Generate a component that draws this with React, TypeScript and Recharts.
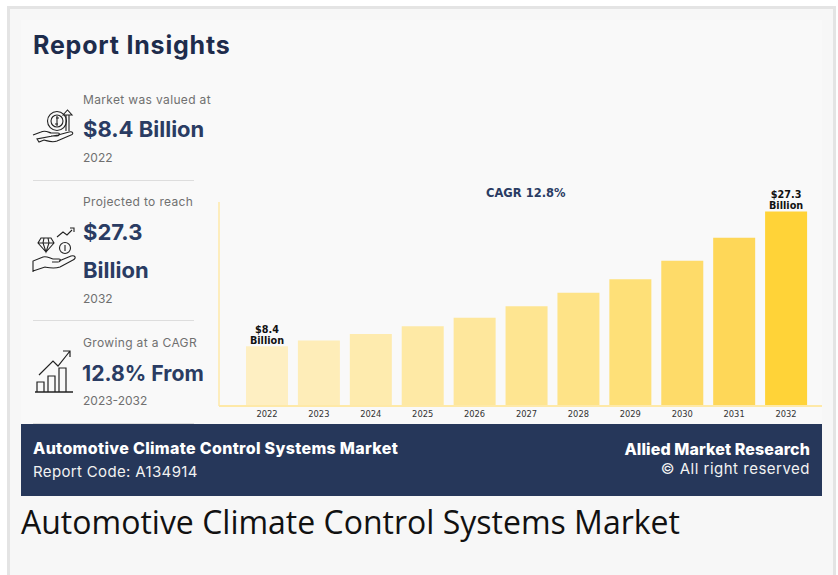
import React from 'react';
import { BarChart, Bar, Cell, XAxis, YAxis, LabelList } from 'recharts';

const years = ['2022', '2023', '2024', '2025', '2026', '2027', '2028', '2029', '2030', '2031', '2032'];
const marketValues = [8.4, 9.2, 10.1, 11.2, 12.4, 14.0, 15.9, 17.8, 20.4, 23.6, 27.3];
const valueLabels = ['$8.4', '', '', '', '', '', '', '', '', '', '$27.3'];

const barColors = ['#FEEFC2', '#FEEDB8', '#FEEBAE', '#FEE9A5', '#FEE79C', '#FEE591', '#FEE387', '#FEE078', '#FEDB69', '#FED758', '#FFD338'];

const chartData = years.map((year, i) => ({ year, value: marketValues[i], label: valueLabels[i] }));

const NAVY = '#26375A';

const Txt = ({ x, y, size, weight = 400, color = '#666', right, font = 'Inter', spacing = 0, children }: any) => (
  <div
    style={{
      position: 'absolute',
      top: y - 20,
      height: 40,
      lineHeight: '40px',
      left: right === undefined ? x : undefined,
      right: right === undefined ? undefined : 838 - right,
      fontFamily: font,
      fontSize: size,
      fontWeight: weight,
      color,
      letterSpacing: spacing,
      whiteSpace: 'nowrap',
    }}
  >
    {children}
  </div>
);

const Divider = ({ y }: { y: number }) => (
  <div style={{ position: 'absolute', left: 33, top: y, width: 161, height: 1, background: '#DDDDDD' }} />
);

// two line label above the first and last bars
const BarValueLabel = ({ x, y, width, value }: any) => {
  if (!value) return null;
  const cx = x + width / 2;
  const style = { fontFamily: 'DejaVu Sans', fontSize: 9.7, fontWeight: 700, fill: '#111' };
  return (
    <text textAnchor="middle" style={style}>
      <tspan x={cx} y={y - 13.5}>{value}</tspan>
      <tspan x={cx} y={y - 2}>Billion</tspan>
    </text>
  );
};

const HandCoinIcon = () => (
  <svg style={{ position: 'absolute', left: 32, top: 106 }} width="46" height="46" viewBox="0 0 46 46" fill="none" stroke="#222" strokeWidth="1.1">
    <circle cx="25" cy="15" r="9.5" />
    <circle cx="25" cy="15" r="6" />
    <path d="M24 12h3M23 18h3M25 10v10" />
    <path d="M34 25V9M37 25V9M31 9l4.500-5 4.500 5z" />
    <path d="M1 29l8-3c4-2 7 0 10 1h7c2 0 2 3-1 3h-6M26 29l11-3c4-1 5 2 2 3l-14 6c-5 2-9 0-13-1l-5 2-2-3z" />
  </svg>
);

const HandGemIcon = () => (
  <svg style={{ position: 'absolute', left: 32, top: 226 }} width="46" height="48" viewBox="0 0 46 48" fill="none" stroke="#222" strokeWidth="1.1">
    <path d="M9 12h10l3 5-8 9-8-9zM6 17h16M12 12l-1 5 3 9 3-9-1-5" />
    <path d="M25 11l6-5 4 3 5-5M38 2h4v4" />
    <circle cx="33" cy="22" r="5.500" />
    <path d="M33 19v6" />
    <path d="M1 46V35l10-4c4-1 6 1 10 2h6c2 0 2 3-1 3h-6M27 35l12-5c4-1 6 2 2 4l-13 7c-6 2-10 1-15 0l-12 4" />
  </svg>
);

const GrowthIcon = () => (
  <svg style={{ position: 'absolute', left: 33, top: 348 }} width="42" height="46" viewBox="0 0 42 46" fill="none" stroke="#222" strokeWidth="1.2">
    <path d="M2 44h38" strokeWidth="1.6" />
    <path d="M4 44V34h7v10M15 44V28h7v16M26 44V20h7v24" />
    <path d="M6 27L20 13l5 5L37 3M30 3h7v6" />
  </svg>
);

const App = () => {
  return (
    <div style={{ position: 'absolute', left: 0, top: 0, width: 838, height: 575, overflow: 'hidden', background: '#FFFFFF' }}>
      <div style={{ position: 'absolute', left: 7, top: 6, width: 829, height: 569, background: '#F7F7F7', borderLeft: '3px solid #E4E4E4', borderTop: '3px solid #E4E4E4', borderRight: '3px solid #E4E4E4', boxSizing: 'border-box' }} />
      <div style={{ position: 'absolute', left: 21, top: 20, width: 801, height: 404, background: '#F9F9F9' }} />

      <Txt x={33} y={45} size={25} weight={700} color="#1E2C4C" spacing={0.8}>Report Insights</Txt>

      <HandCoinIcon />
      <Txt x={83} y={100} size={12} color="#707070" spacing={0.35}>Market was valued at</Txt>
      <Txt x={83} y={129} size={22} weight={700} color="#2A3C63">$8.4 Billion</Txt>
      <Txt x={83} y={158} size={12} color="#707070">2022</Txt>
      <Divider y={180} />

      <HandGemIcon />
      <Txt x={83} y={202} size={12} color="#707070" spacing={0.35}>Projected to reach</Txt>
      <Txt x={83} y={232} size={22} weight={700} color="#2A3C63">$27.3</Txt>
      <Txt x={83} y={270} size={22} weight={700} color="#2A3C63">Billion</Txt>
      <Txt x={83} y={299} size={12} color="#707070">2032</Txt>
      <Divider y={320} />

      <GrowthIcon />
      <Txt x={83} y={343} size={12} color="#707070" spacing={0.35}>Growing at a CAGR</Txt>
      <Txt x={82} y={373} size={21.2} weight={700} color="#2A3C63">12.8% From</Txt>
      <Txt x={83} y={401} size={12} color="#707070">2023-2032</Txt>
      <Divider y={423} />

      <div style={{ position: 'absolute', left: 0, top: 0 }}>
        <BarChart width={838} height={575} data={chartData} barSize={42} margin={{ top: 202, right: 16, bottom: 149, left: 218 }}>
          <XAxis
            dataKey="year"
            height={20}
            interval={0}
            padding={{ left: 22, right: 10 }}
            axisLine={{ stroke: '#FEE9A8', strokeWidth: 2 }}
            tickLine={false}
            tickMargin={0}
            dy={-1}
            tick={{ fill: '#333', fontSize: 8.3, fontFamily: 'DejaVu Sans' }}
          />
          <YAxis
            width={1}
            domain={[0, 28.63]}
            tick={false}
            tickLine={false}
            axisLine={{ stroke: '#FEE9A8', strokeWidth: 1.5 }}
          />
          <Bar dataKey="value" isAnimationActive={false}>
            {chartData.map((d, i) => (
              <Cell key={d.year} fill={barColors[i]} />
            ))}
            <LabelList dataKey="label" content={<BarValueLabel />} />
          </Bar>
        </BarChart>
      </div>

      <Txt x={486} y={193} size={11.5} weight={700} color="#2A3C63" font="DejaVu Sans">CAGR 12.8%</Txt>

      <div style={{ position: 'absolute', left: 21, top: 424, width: 801, height: 72, background: NAVY }} />
      <Txt x={33} y={448} size={16} weight={800} color="#FFFFFF" spacing={0.32}>Automotive Climate Control Systems Market</Txt>
      <Txt x={33} y={472} size={15} weight={400} color="#F2F2F2" spacing={0.35}>Report Code: A134914</Txt>
      <Txt right={810} y={449} size={16} weight={800} color="#FFFFFF" spacing={0.1}>Allied Market Research</Txt>
      <Txt right={810} y={469} size={15} weight={400} color="#F2F2F2" spacing={0.5}>© All right reserved</Txt>

      <Txt x={21} y={522} size={32} font="Open Sans" color="#111">Automotive Climate Control Systems Market</Txt>
    </div>
  );
};

export default App;
